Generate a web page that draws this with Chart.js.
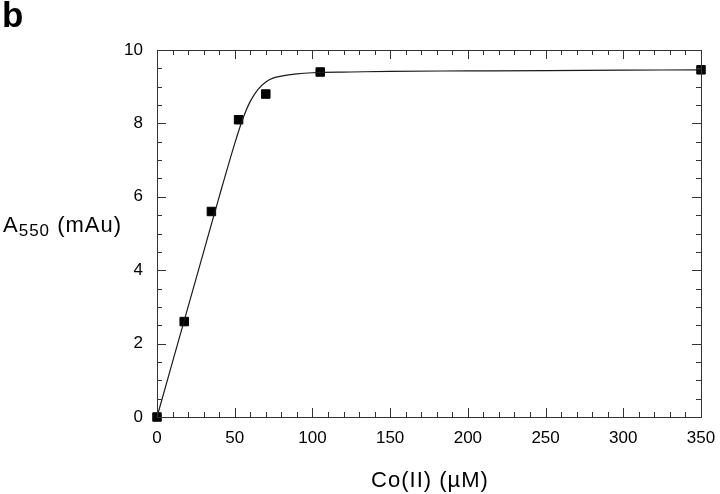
<!DOCTYPE html>
<html>
<head>
<meta charset="utf-8">
<script src="https://cdn.jsdelivr.net/npm/chart.js@4/dist/chart.umd.min.js"></script>
<style>
html,body{margin:0;padding:0;background:#fff;}
#wrap{width:720px;height:494px;position:relative;}
</style>
</head>
<body>
<div id="wrap"><canvas id="c" width="720" height="494"></canvas></div>
<script>
// Measured points
const cobaltConc = [0, 17.5, 35, 52.5, 70, 105, 350];
const absorbance = [0, 2.6, 5.6, 8.1, 8.8, 9.4, 9.46];
// Fitted curve
const curveX = [0, 10, 20, 30, 40, 50, 55, 60, 65, 70, 75, 80, 90, 100, 125, 150, 200, 250, 300, 350];
const curveY = [0, 1.5, 3.0, 4.5, 6.0, 7.45, 8.1, 8.6, 8.93, 9.13, 9.24, 9.29, 9.35, 9.38, 9.40, 9.42, 9.43, 9.44, 9.45, 9.46];
// Axis ticks
const xMajorTicks = [0, 50, 100, 150, 200, 250, 300, 350];
const xMinorTicks = [10,20,30,40,60,70,80,90,110,120,130,140,160,170,180,190,210,220,230,240,260,270,280,290,310,320,330,340];
const yMajorTicks = [0, 2, 4, 6, 8, 10];
const yMinorTicks = [0.5,1,1.5,2.5,3,3.5,4.5,5,5.5,6.5,7,7.5,8.5,9,9.5];
const xTitle = 'Co(II) (\u00B5M)';
const yTitleMain = 'A';
const yTitleSub = '550';
const yTitleRest = ' (mAu)';
const panelLabel = 'b';

const FONT = '"Liberation Sans", Arial, Helvetica, sans-serif';
const INK = '#1a1a1a';

const framePlugin = {
  id: 'frame',
  afterDraw(chart) {
    const ctx = chart.ctx;
    const a = chart.chartArea;
    const xs = chart.scales.x, ys = chart.scales.y;
    ctx.save();
    ctx.strokeStyle = '#333';
    ctx.lineWidth = 1;
    ctx.strokeRect(Math.round(a.left) + 0.5, Math.round(a.top) + 0.5, Math.round(a.right - a.left), Math.round(a.bottom - a.top));
    ctx.beginPath();
    const tick = (list, len) => {
      list.forEach(v => {
        const px = Math.round(xs.getPixelForValue(v)) + 0.5;
        ctx.moveTo(px, a.bottom); ctx.lineTo(px, a.bottom - len);
        ctx.moveTo(px, a.top); ctx.lineTo(px, a.top + len);
      });
    };
    const ytick = (list, len) => {
      list.forEach(v => {
        const py = Math.round(ys.getPixelForValue(v)) + 0.5;
        ctx.moveTo(a.left, py); ctx.lineTo(a.left + len, py);
        ctx.moveTo(a.right, py); ctx.lineTo(a.right - len, py);
      });
    };
    tick(xMajorTicks, 9); tick(xMinorTicks, 5);
    ytick(yMajorTicks, 9); ytick(yMinorTicks, 5);
    ctx.stroke();

    // texts
    ctx.fillStyle = '#000';
    ctx.textBaseline = 'alphabetic';
    ctx.font = 'bold 35px ' + FONT;
    ctx.textAlign = 'left';
    ctx.fillText(panelLabel, 2, 27);

    if ('letterSpacing' in ctx) ctx.letterSpacing = '1px';
    ctx.font = '22px ' + FONT;
    ctx.textAlign = 'center';
    ctx.fillText(xTitle, (a.left + a.right) / 2 + 1, 487);

    ctx.textAlign = 'left';
    let x = 3;
    ctx.font = '22px ' + FONT;
    ctx.fillText(yTitleMain, x, 232);
    x += ctx.measureText(yTitleMain).width;
    ctx.font = '17px ' + FONT;
    ctx.fillText(yTitleSub, x, 236);
    x += ctx.measureText(yTitleSub).width;
    ctx.font = '22px ' + FONT;
    ctx.fillText(yTitleRest, x, 232);
    ctx.restore();
  }
};

new Chart(document.getElementById('c'), {
  type: 'scatter',
  data: {
    datasets: [
      {
        label: 'fit',
        data: curveX.map((x, i) => ({x: x, y: curveY[i]})),
        showLine: true,
        borderColor: INK,
        borderWidth: 1.2,
        pointRadius: 0,
        cubicInterpolationMode: 'monotone',
        clip: false
      },
      {
        label: 'data',
        data: cobaltConc.map((x, i) => ({x: x, y: absorbance[i]})),
        showLine: false,
        pointStyle: 'rect',
        pointRadius: 6,
        backgroundColor: '#000',
        borderColor: '#000',
        borderWidth: 1,
        clip: false
      }
    ]
  },
  options: {
    responsive: false,
    animation: false,
    devicePixelRatio: 1,
    layout: { padding: { left: 0, right: 19, top: 50, bottom: 0 } },
    plugins: { legend: { display: false }, tooltip: { enabled: false } },
    scales: {
      x: {
        type: 'linear', min: 0, max: 350,
        grid: { display: false, drawTicks: false },
        border: { display: false },
        afterBuildTicks: s => { s.ticks = xMajorTicks.map(v => ({value: v})); },
        afterFit: s => { s.height = 77; s.paddingLeft = 0; s.paddingRight = 0; },
        ticks: { color: '#000', padding: 11, maxRotation: 0, font: { family: FONT, size: 17 } }
      },
      y: {
        type: 'linear', min: 0, max: 10,
        grid: { display: false, drawTicks: false },
        border: { display: false },
        afterBuildTicks: s => { s.ticks = yMajorTicks.map(v => ({value: v})); },
        afterFit: s => { s.width = 157; s.paddingTop = 0; s.paddingBottom = 0; },
        ticks: { color: '#000', padding: 14, font: { family: FONT, size: 17 } }
      }
    }
  },
  plugins: [framePlugin]
});
</script>
</body>
</html>
